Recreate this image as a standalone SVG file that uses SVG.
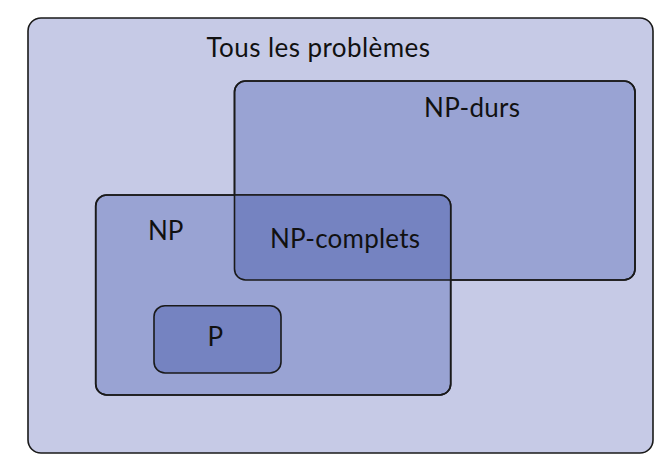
<svg xmlns="http://www.w3.org/2000/svg" width="672" height="474" viewBox="0 0 672 474">
<style>
.box{stroke:#1a1a1a;stroke-width:1.6}
.outline{fill:none;stroke:#1a1a1a;stroke-width:1.6}
.lbl{font-family:Lato,"Open Sans","Liberation Sans",sans-serif;font-size:26px;fill:#111}
</style>
<defs>
<clipPath id="clipHard"><rect x="234.5" y="81" width="400.5" height="199" rx="11"/></clipPath>
</defs>
<rect width="672" height="474" fill="#ffffff"/>
<g id="tous">
<rect class="box" x="28" y="18" width="625" height="435" rx="13" fill="#c6cae6"/>
<text class="lbl" x="206.5" y="56.7" textLength="223.5" lengthAdjust="spacing">Tous les problèmes</text>
</g>
<g id="np-durs">
<rect class="box" x="234.5" y="81" width="400.5" height="199" rx="11" fill="#99a3d3"/>
<text class="lbl" x="424" y="116.7" textLength="96" lengthAdjust="spacing">NP-durs</text>
</g>
<g id="np">
<rect class="box" x="95.7" y="195" width="355" height="200" rx="11" fill="#99a3d3"/>
<text class="lbl" x="148" y="240">NP</text>
</g>
<g id="np-complets">
<rect x="95.7" y="195" width="355" height="200" rx="11" fill="#7583c1" clip-path="url(#clipHard)"/>
<rect class="outline" x="234.5" y="81" width="400.5" height="199" rx="11"/>
<rect class="outline" x="95.7" y="195" width="355" height="200" rx="11"/>
<text class="lbl" x="270" y="248.3" textLength="150" lengthAdjust="spacing">NP-complets</text>
</g>
<g id="p">
<rect class="box" x="154" y="305.7" width="127" height="67.3" rx="11" fill="#7583c1"/>
<text class="lbl" x="207.5" y="346">P</text>
</g>
<g id="connectors"></g>
</svg>
